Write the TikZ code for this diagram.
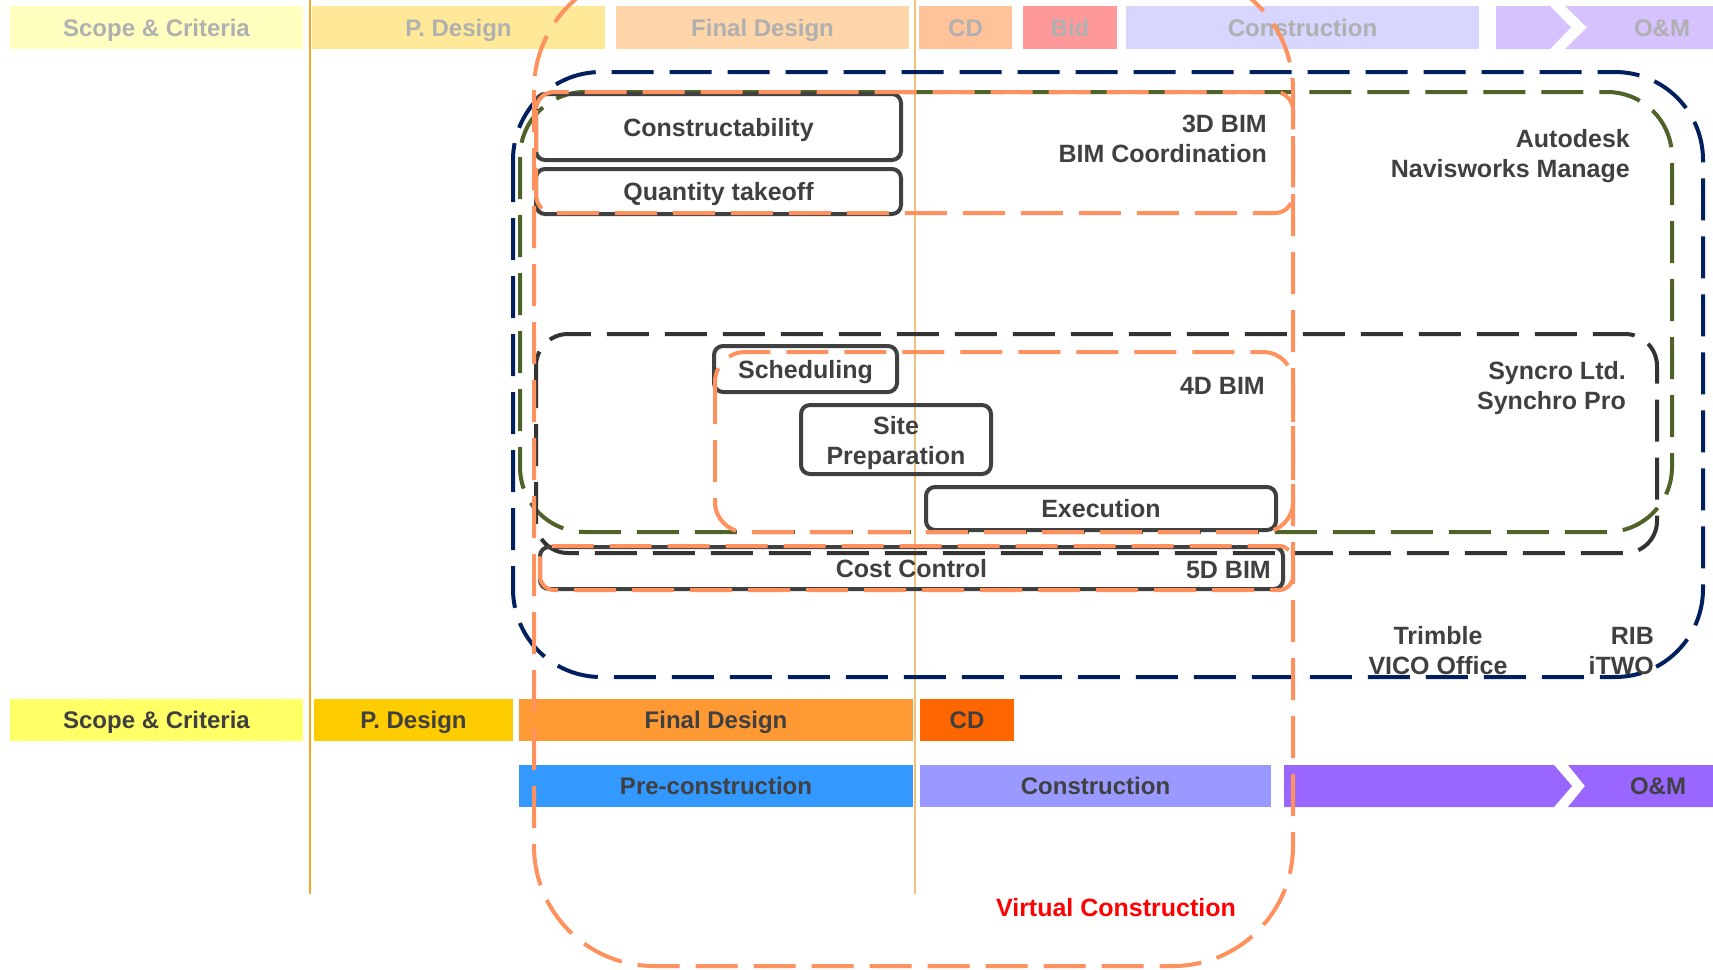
\documentclass[tikz,border=0pt]{standalone}
\usepackage{fontspec}
\setmainfont{Liberation Sans}
\definecolor{txt}{HTML}{404040}
\definecolor{ftxt}{HTML}{B0B0B0}
\definecolor{boxc}{HTML}{404040}
\definecolor{navyc}{HTML}{002060}
\definecolor{greenc}{HTML}{4F6228}
\definecolor{grayc}{HTML}{333333}
\definecolor{orc}{HTML}{FF915F}
\definecolor{vl1}{HTML}{F5A623}
\definecolor{vl2}{HTML}{F3C27A}
% faded top row
\definecolor{tS}{HTML}{FFFFC0}
\definecolor{tP}{HTML}{FFE999}
\definecolor{tF}{HTML}{FFD5AA}
\definecolor{tC}{HTML}{FFC299}
\definecolor{tB}{HTML}{FF9999}
\definecolor{tK}{HTML}{D6D6FF}
\definecolor{tO}{HTML}{D5C2FF}
% bottom rows
\definecolor{bS}{HTML}{FFFF66}
\definecolor{bP}{HTML}{FFCC00}
\definecolor{bF}{HTML}{FF9933}
\definecolor{bC}{HTML}{FF6600}
\definecolor{bR}{HTML}{3399FF}
\definecolor{bK}{HTML}{9999FF}
\definecolor{bO}{HTML}{9966FF}
\begin{document}
\begin{tikzpicture}[x=1pt,y=-1pt,
  lbl/.style={font=\bfseries\fontsize{25}{30}\selectfont, text=txt, inner sep=0pt},
  tbar/.style={inner sep=0pt, minimum height=43pt, text height=17pt, text depth=0pt, text=ftxt, font=\bfseries\fontsize{24}{28}\selectfont},
  bbar/.style={inner sep=0pt, minimum height=42pt, text height=17pt, text depth=0pt, text=txt, font=\bfseries\fontsize{24}{28}\selectfont},
  sbox/.style={draw=boxc, line width=4pt, rounded corners=9pt, inner sep=0pt, text height=18pt, text depth=0pt, text=txt, font=\bfseries\fontsize{25}{31}\selectfont},
  dsh/.style={line width=4pt, dash pattern=on 42pt off 16pt},
]
\useasboundingbox (0,0) rectangle (1713,969);
\fill[white] (0,0) rectangle (1713,969);

% top faded row
\node[tbar, fill=tS, minimum width=293pt] (tScope) at (156.5,27.5) {Scope \& Criteria};
\node[tbar, fill=tP, minimum width=293pt] (tPD) at (458.5,27.5) {P. Design};
\node[tbar, fill=tF, minimum width=293pt] (tFD) at (762.5,27.5) {Final Design};
\node[tbar, fill=tC, minimum width=93pt] (tCD) at (965.5,27.5) {CD};
\node[tbar, fill=tB, minimum width=94pt] (tBid) at (1070,27.5) {Bid};
\node[tbar, fill=tK, minimum width=353pt] (tCon) at (1302.5,27.5) {Construction};
\fill[tO] (1496,6) -- (1550,6) -- (1571,27.5) -- (1550,49) -- (1496,49) -- cycle;
\fill[tO] (1565,6) -- (1713,6) -- (1713,49) -- (1565,49) -- (1587,27.5) -- cycle;
\node[tbar] (tOM) at (1662,27.5) {O\&M};

% bottom rows
\node[bbar, fill=bS, minimum width=293pt] (bScope) at (156.5,720) {Scope \& Criteria};
\node[bbar, fill=bP, minimum width=199pt] (bPD) at (413.5,720) {P. Design};
\node[bbar, fill=bF, minimum width=394pt] (bFD) at (716,720) {Final Design};
\node[bbar, fill=bC, minimum width=94pt] (bCD) at (967,720) {CD};
\node[bbar, fill=bR, minimum width=394pt] (bPre) at (716,786) {Pre-construction};
\node[bbar, fill=bK, minimum width=351pt] (bCon) at (1095.5,786) {Construction};
\fill[bO] (1284,765) -- (1554,765) -- (1572,786) -- (1554,807) -- (1284,807) -- cycle;
\fill[bO] (1568,765) -- (1713,765) -- (1713,807) -- (1568,807) -- (1585,786) -- cycle;
\node[bbar] (bOM) at (1658,786) {O\&M};

% thin vertical lines
\draw[vl1, line width=1.8pt] (310,0) -- (310,894);
\draw[vl2, line width=1.4pt] (915,0) -- (915,894);

% tool regions
\draw[dsh, navyc, rounded corners=88pt] (513,72) rectangle (1703,677);
\draw[dsh, greenc, rounded corners=65pt] (520,92) rectangle (1672,532);
\draw[dsh, grayc, rounded corners=32pt] (536,334) rectangle (1657,553);

% activity boxes
\node[sbox, minimum width=365pt, minimum height=66pt] (constr) at (718.5,127) {Constructability};
\node[sbox, minimum width=365pt, minimum height=45pt] (qto) at (718.5,191.5) {Quantity takeoff};
\node[sbox, minimum width=183pt, minimum height=46pt] (sched) at (805.5,369) {Scheduling};
\node[sbox, minimum width=190pt, minimum height=69pt] (site) at (896,439.5) {};
\node[lbl, align=center, yshift=-3.5pt] (siteT) at (site.center) {Site\\Preparation};
\node[sbox, minimum width=350pt, minimum height=43pt] (exec) at (1101,508.5) {Execution};
\node[sbox, minimum width=743pt, minimum height=42pt] (cost) at (911.5,568) {Cost Control};

% BIM dimension regions
\draw[dsh, orc, rounded corners=18pt] (536,92) rectangle (1293,213);
\draw[dsh, orc, rounded corners=30pt] (715,352) rectangle (1293,532);
\draw[dsh, orc, rounded corners=14pt] (540,546) rectangle (1293,590);
\draw[dsh, orc, rounded corners=120pt] (534,-30) rectangle (1293,966);

% labels
\node[lbl, anchor=east, align=right] (l3d) at (1267,139) {3D BIM\\BIM Coordination};
\node[lbl, anchor=east, align=right] (lnav) at (1630,156.5) {Autodesk\\Navisworks Manage};
\node[lbl, anchor=east] (l4d) at (1265,386) {4D BIM};
\node[lbl, anchor=east, align=right] (lsyn) at (1626,388) {Syncro Ltd.\\Synchro Pro};
\node[lbl, anchor=east] (l5d) at (1271,570) {5D BIM};
\node[lbl, align=center] (ltrim) at (1438,651) {Trimble\\VICO Office};
\node[lbl, anchor=east, align=right] (lrib) at (1654,651) {RIB\\iTWO};
\node[lbl, text=red] (lvc) at (1116,908) {Virtual Construction};
\end{tikzpicture}
\end{document}
